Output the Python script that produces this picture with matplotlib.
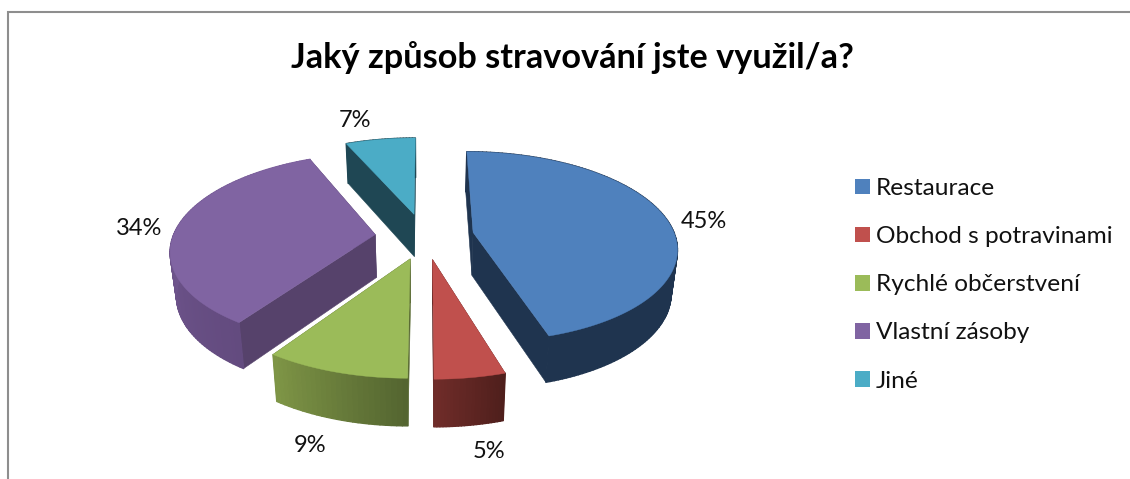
import numpy as np
import matplotlib
matplotlib.use("Agg")
import matplotlib.pyplot as plt
from matplotlib.patches import Patch
from matplotlib.colors import to_rgb

plt.rcParams['font.family'] = ['Lato', 'Open Sans', 'DejaVu Sans']

title = "Jaký způsob stravování jste využil/a?"
labels = ["Restaurace", "Obchod s potravinami", "Rychlé občerstvení", "Vlastní zásoby", "Jiné"]
values = [45, 5, 9, 34, 7]

top_colors = ["#4F81BD", "#C0504D", "#9BBB59", "#8064A2", "#4BACC6"]
face_colors = ["#1F344F", "#5C2422", "#5A6B33", "#56426B", "#1F4754"]
wall_start = ["#1F334E", "#4F1F1C", "#546530", "#634B7F", "#1F4754"]
wall_end = ["#1F344F", "#6F2C29", "#7E9546", "#7C609C", "#1F4754"]
pct_xy = [(704, 222), (488.5, 451), (310, 446), (139, 228), (355, 120)]

draw_order = [4, 3, 0, 2, 1]  # back to front

# fake 3d projection, fitted by eye to the picture
cx, cy = 424.5, 236
rx, ry = 202, 93.8
persp = 0.15
depth = 43
explode = 0.245
base_shrink = 0.975
twist = np.radians(2.0)  # the camera skews the oblique cuts a little


def project(x, y, low=False):
    f = 1 / (1 + persp * y)
    sx = rx * x * f
    sy = cy - ry * y * f
    if low:
        sx *= base_shrink
        sy += depth * np.sqrt(f)
    return cx + sx, sy


fig = plt.figure(figsize=(11.3, 4.79), dpi=100)
ax = fig.add_axes([0, 0, 1, 1])
ax.set_xlim(0, 1130)
ax.set_ylim(479, 0)
ax.axis('off')

# chart frame, cut by the crop on the right and the bottom
ax.plot([7.5, 7.5, 1130], [479, 12, 12], color="#8E8E8E", lw=1.5, solid_joinstyle='miter')

cum = np.cumsum([0] + values)
starts = np.radians(90 - 3.6 * cum[:-1])
ends = np.radians(90 - 3.6 * cum[1:])

for i in draw_order:
    a0, a1 = starts[i], ends[i]
    mid = (a0 + a1) / 2
    ox, oy = explode * np.cos(mid), explode * np.sin(mid)
    ang = np.linspace(a0, a1, max(int(values[i] * 3), 24))
    ang = ang - twist * np.abs(np.sin(2 * ang))
    ex, ey = ox + np.cos(ang), oy + np.sin(ang)

    # straight cut faces
    for k in [0, -1]:
        xs = [project(ox, oy)[0], project(ex[k], ey[k])[0], project(ex[k], ey[k], True)[0], project(ox, oy, True)[0]]
        ys = [project(ox, oy)[1], project(ex[k], ey[k])[1], project(ex[k], ey[k], True)[1], project(ox, oy, True)[1]]
        ax.fill(xs, ys, color=face_colors[i], lw=0.4)

    # outer wall in strips for the gradient
    c0, c1 = np.array(to_rgb(wall_start[i])), np.array(to_rgb(wall_end[i]))
    for k in range(len(ang) - 1):
        t = k / (len(ang) - 2)
        col = c0 + (c1 - c0) * t
        p1 = project(ex[k], ey[k])
        p2 = project(ex[k + 1], ey[k + 1])
        p3 = project(ex[k + 1], ey[k + 1], True)
        p4 = project(ex[k], ey[k], True)
        ax.fill([p1[0], p2[0], p3[0], p4[0]], [p1[1], p2[1], p3[1], p4[1]], color=col, lw=1.0, joinstyle='round')

    # top
    tx, ty = project(np.r_[ox, ex], np.r_[oy, ey])
    ax.fill(tx, ty, color=top_colors[i], lw=0.3)

for v, (x, y) in zip(values, pct_xy):
    ax.text(x, y, f"{v}%", ha='center', va='center', fontsize=17, color="#111111")

ax.text(572, 58, title, ha='center', va='center', fontsize=24.7, fontweight='bold', color="#000000")

handles = [Patch(facecolor=c, edgecolor='none', label=l) for c, l in zip(top_colors, labels)]
ax.legend(handles=handles, loc='upper left', bbox_to_anchor=(855 / 1130, 1 - 178 / 479), frameon=False,
          fontsize=17.6, labelspacing=1.11, borderpad=0, borderaxespad=0,
          handlelength=0.614, handleheight=0.614, handletextpad=0.245, labelcolor="#111111")

fig.savefig("out.png", dpi=100)
